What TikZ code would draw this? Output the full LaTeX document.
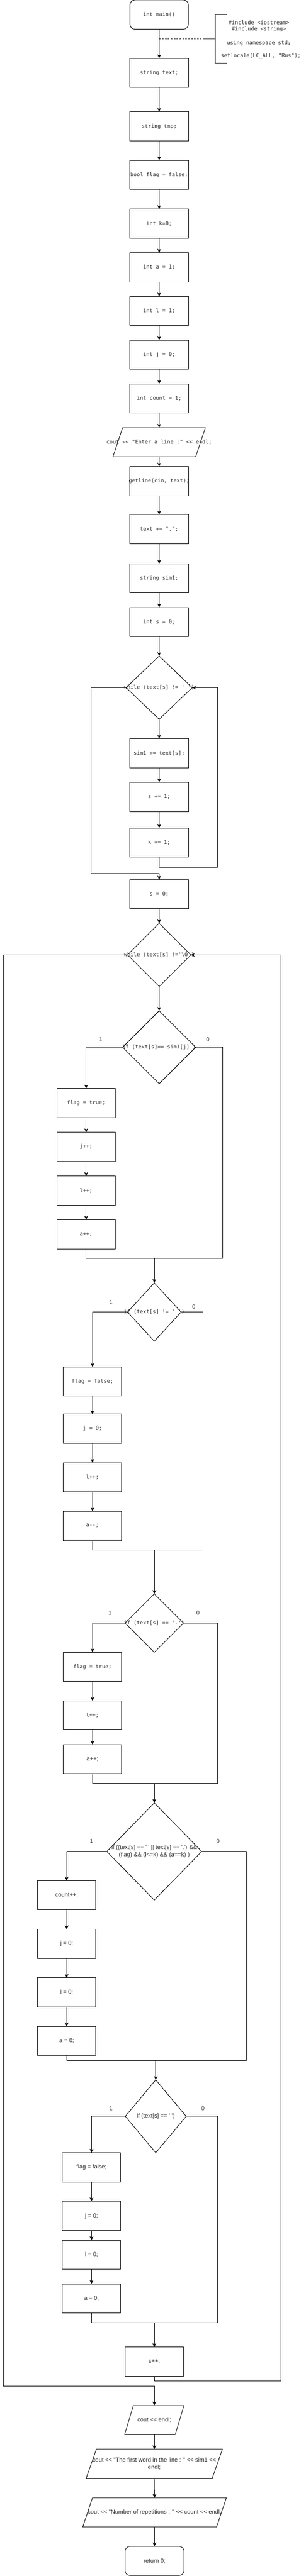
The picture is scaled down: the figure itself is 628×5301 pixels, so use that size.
\documentclass[tikz,border=0pt]{standalone}
\usepackage{fontspec}
\setmainfont{Liberation Sans}[Ligatures=TeXOff]
\newfontfamily\monof{DejaVu Sans Mono}[Ligatures=TeXOff]
\usetikzlibrary{shapes.geometric,arrows.meta,calc}
\newcommand\zw[1]{\makebox[0pt][c]{#1}}
% parallelogram outline round a node: name, half width, skew
\newcommand\drawpara[3]{\draw[conn] ($(#1.center)+(-#2+#3,-30)$) -- ($(#1.center)+(#2+#3,-30)$) -- ($(#1.center)+(#2-#3,30)$) -- ($(#1.center)+(-#2-#3,30)$) -- cycle;}
\tikzset{
 txt/.style={text=black!82, inner sep=0pt, outer sep=0pt},
 mono/.style={txt, font=\monof\fontsize{10.9}{13}\selectfont},
 sans/.style={txt, font=\fontsize{12}{14.5}\selectfont},
 box/.style={rectangle, draw=black, line width=1pt, minimum width=120, minimum height=60},
 rbox/.style={box, rounded corners=10},
 diam/.style={diamond, draw=black, line width=1pt, aspect=1},
 pnode/.style={rectangle, minimum height=60},
 conn/.style={draw=black, line width=1pt},
 arr/.style={conn, -{Stealth[length=8,width=7.5,inset=2.5]}},
 lab/.style={sans, text=black!75},
}
\begin{document}
\begin{tikzpicture}[x=1pt,y=-1pt]
\fill[white] (0,0) rectangle (628,5301);
\useasboundingbox (0,0) rectangle (628,5301);

% ---- main column
\node[rbox,mono] (m) at (327,30) {\zw{int main()}};
\node[box,mono] (n1) at (327,150) {\zw{string text;}};
\node[box,mono] (n2) at (327,260) {\zw{string tmp;}};
\node[box,mono] (n3) at (327,360) {\zw{bool flag = false;}};
\node[box,mono] (n4) at (327,460) {\zw{int k=0;}};
\node[box,mono] (n5) at (327,550) {\zw{int a = 1;}};
\node[box,mono] (n6) at (327,640) {\zw{int l = 1;}};
\node[box,mono] (n7) at (327,730) {\zw{int j = 0;}};
\node[box,mono] (n8) at (327,820) {\zw{int count = 1;}};
\node[pnode,mono] (p1) at (327,910) {\zw{cout << "Enter a line :" << endl;}};
\drawpara{p1}{85}{10}
\node[box,mono] (n9) at (327,990) {\zw{getline(cin, text);}};
\node[box,mono] (n10) at (327,1089) {\zw{text += ".";}};
\node[box,mono] (n11) at (327,1190) {\zw{string sim1;}};
\node[box,mono] (n12) at (327,1280) {\zw{int s = 0;}};
\node[diam,mono,minimum width=136,minimum height=130] (w1) at (327,1415) {\zw{while (text[s] != ' ')}};
\node[box,mono] (n13) at (327,1550) {\zw{sim1 += text[s];}};
\node[box,mono] (n14) at (327,1640) {\zw{s += 1;}};
\node[box,mono] (n15) at (327,1734) {\zw{k += 1;}};
\node[box,mono] (n16) at (327,1840) {\zw{s = 0;}};
\node[diam,mono,minimum width=130,minimum height=130] (w2) at (327,1965) {\zw{while (text[s] !='\textbackslash 0')}};

% ---- if 1
\node[diam,mono,minimum width=150,minimum height=150] (d1) at (327,2155) {\zw{if (text[s]== sim1[j] )}};
\node[box,mono] (b1) at (177,2270) {\zw{flag = true;}};
\node[box,mono] (b2) at (177,2360) {\zw{j++;}};
\node[box,mono] (b3) at (177,2450) {\zw{l++;}};
\node[box,mono] (b4) at (177,2540) {\zw{a++;}};
\node[lab] (l1) at (207,2139) {1};
\node[lab] (o1) at (427,2139) {0};

% ---- if 2
\node[diam,mono,minimum width=110,minimum height=120] (d2) at (317,2700) {\zw{if (text[s] != ' ')}};
\node[box,mono] (c1) at (190,2843) {\zw{flag = false;}};
\node[box,mono] (c2) at (190,2940) {\zw{j = 0;}};
\node[box,mono] (c3) at (190,3040) {\zw{l++;}};
\node[box,mono] (c4) at (190,3140) {\zw{a--;}};
\node[lab] (l2) at (228,2680) {1};
\node[lab] (o2) at (398,2689) {0};

% ---- if 3
\node[diam,mono,minimum width=120,minimum height=120] (d3) at (317,3340) {\zw{if (text[s] == '.')}};
\node[box,mono] (e1) at (190,3430) {\zw{flag = true;}};
\node[box,mono] (e2) at (190,3530) {\zw{l++;}};
\node[box,sans] (e3) at (190,3620) {\zw{a++;}};
\node[lab] (l3) at (226,3319) {1};
\node[lab] (o3) at (407,3319) {0};

% ---- if 4
\node[diam,sans,minimum width=195,minimum height=200,align=center] (d4) at (317,3810) {\zw{if ((text[s] == ' ' || text[s] == '.') \&\&}\\\zw{(flag) \&\& (l<=k) \&\& (a==k) )}};
\node[box,sans] (f1) at (137,3900) {\zw{count++;}};
\node[box,sans] (f2) at (137,4000) {\zw{j = 0;}};
\node[box,sans] (f3) at (137,4100) {\zw{l = 0;}};
\node[box,sans] (f4) at (137,4200) {\zw{a = 0;}};
\node[lab] (l4) at (188,3789) {1};
\node[lab] (o4) at (448,3789) {0};

% ---- if 5
\node[diam,sans,minimum width=125,minimum height=150] (d5) at (320,4355) {\zw{if (text[s] == ' ')}};
\node[box,sans] (g1) at (188,4460) {\zw{flag = false;}};
\node[box,sans] (g2) at (188,4560) {\zw{j = 0;}};
\node[box,sans] (g3) at (188,4640) {\zw{l = 0;}};
\node[box,sans] (g4) at (188,4730) {\zw{a = 0;}};
\node[lab] (l5) at (228,4339) {1};
\node[lab] (o5) at (417,4339) {0};

\node[box,sans] (s1) at (317,4860) {\zw{s++;}};

% ---- output
\node[pnode,sans] (p2) at (317,4980) {\zw{cout << endl;}};
\drawpara{p2}{52}{9}
\node[pnode,sans,align=center] (p3) at (317,5070) {\zw{cout << "The first word in the line : " << sim1 <<}\\\zw{endl;}};
\drawpara{p3}{129.5}{10.5}
\node[pnode,sans] (p4) at (317.5,5170) {\zw{cout << "Number of repetitions : " << count << endl;}};
\drawpara{p4}{137.5}{10}
\node[rbox,sans,minimum width=121] (r) at (317.5,5270) {\zw{return 0;}};

% ---- annotation
\coordinate (ann) at (327,80);
\draw[line width=0.8pt, dash pattern=on 3pt off 3pt] (ann) -- (417,80);
\draw[line width=1.6pt, draw=black!80] (417,80) -- (442,80);
\draw[line width=1.6pt, draw=black!80] (467,30) -- (442,30) -- (442,130) -- (467,130);
\node[mono] (t1) at (532,46) {\#include <iostream>};
\node[mono] (t2) at (532,60) {\#include <string>};
\node[mono] (t3) at (532,89) {using namespace std;};
\node[mono] (t4) at (536,115) {setlocale(LC\_ALL, "Rus");};

% ---- connectors, main chain
\draw[arr] (m.south) -- (n1.north);
\draw[arr] (n1.south) -- (n2.north);
\draw[arr] (n2.south) -- (n3.north);
\draw[arr] (n3.south) -- (n4.north);
\draw[arr] (n4.south) -- (n5.north);
\draw[arr] (n5.south) -- (n6.north);
\draw[arr] (n6.south) -- (n7.north);
\draw[arr] (n7.south) -- (n8.north);
\draw[arr] (n8.south) -- (p1.north);
\draw[arr] (p1.south) -- (n9.north);
\draw[arr] (n9.south) -- (n10.north);
\draw[arr] (n10.south) -- (n11.north);
\draw[arr] (n11.south) -- (n12.north);
\draw[arr] (n12.south) -- (w1.north);
\draw[arr] (w1.south) -- (n13.north);
\draw[arr] (n13.south) -- (n14.north);
\draw[arr] (n14.south) -- (n15.north);
\draw[arr] (n15.south) -- ++(0,21) -| ($(w1.east)+(52,0)$) -- (w1.east);
\draw[arr] (w1.west) -- ++(-72,0) |- ($(n16.north)+(0,-12)$) -- (n16.north);
\draw[arr] (n16.south) -- (w2.north);
\draw[arr] (w2.south) -- (d1.north);

% if 1
\draw[arr] (d1.west) -| (b1.north);
\draw[arr] (b1.south) -- (b2.north);
\draw[arr] (b2.south) -- (b3.north);
\draw[arr] (b3.south) -- (b4.north);
\draw[conn] (b4.south) -- ++(0,20) -| ($(d1.east)+(55,0)$) -- (d1.east);
\coordinate (m1) at (317,2590);
\draw[arr] (m1) -- (d2.north);

% if 2
\draw[arr] (d2.west) -| (c1.north);
\draw[arr] (c1.south) -- (c2.north);
\draw[arr] (c2.south) -- (c3.north);
\draw[arr] (c3.south) -- (c4.north);
\draw[conn] (c4.south) -- ++(0,20) -| ($(d2.east)+(45,0)$) -- (d2.east);
\coordinate (m2) at (317,3190);
\draw[arr] (m2) -- (d3.north);

% if 3
\draw[arr] (d3.west) -| (e1.north);
\draw[arr] (e1.south) -- (e2.north);
\draw[arr] (e2.south) -- (e3.north);
\draw[conn] (e3.south) -- ++(0,20) -| ($(d3.east)+(70,0)$) -- (d3.east);
\coordinate (m3) at (317,3670);
\draw[arr] (m3) -- (d4.north);

% if 4
\draw[arr] (d4.west) -| (f1.north);
\draw[arr] (f1.south) -- (f2.north);
\draw[arr] (f2.south) -- (f3.north);
\draw[arr] (f3.south) -- (f4.north);
\draw[conn] (f4.south) -- ++(0,10) -| ($(d4.east)+(92,0)$) -- (d4.east);
\coordinate (m4) at (320,4240);
\draw[arr] (m4) -- (d5.north);

% if 5
\draw[arr] (d5.west) -| (g1.north);
\draw[arr] (g1.south) -- (g2.north);
\draw[arr] (g2.south) -- (g3.north);
\draw[arr] (g3.south) -- (g4.north);
\draw[conn] (g4.south) -- ++(0,20) -| ($(d5.east)+(64.5,0)$) -- (d5.east);
\coordinate (m5) at (317,4780);
\draw[arr] (m5) -- (s1.north);

% outer loop
\draw[arr] (s1.south) -- ++(0,10) -| ($(w2.east)+(185,0)$) -- (w2.east);
\draw[arr] (w2.west) -| ($(w2.west)+(-255,2945)$) -| (p2.north);

% output
\draw[arr] (p2.south) -- (p3.north);
\draw[arr] (p3.south) -- (p4.north);
\draw[arr] (p4.south) -- (r.north);
\end{tikzpicture}
\end{document}
